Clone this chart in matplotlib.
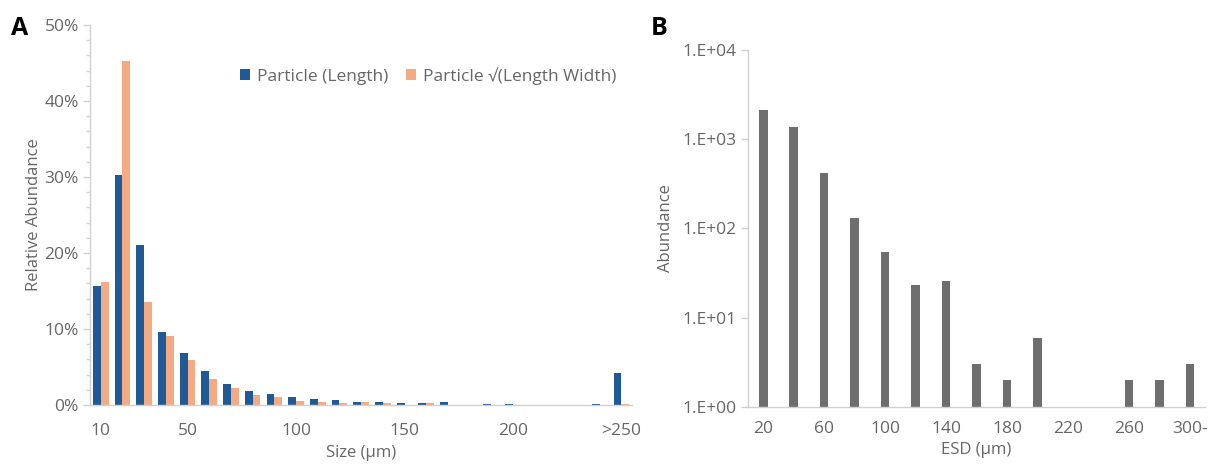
import numpy as np
import matplotlib.pyplot as plt
from matplotlib.ticker import FixedLocator, MultipleLocator, PercentFormatter

plt.rcParams['font.family'] = ['Open Sans', 'DejaVu Sans']

TEXT = '#666666'
AXIS = '#d0d0d0'
COLOR_LEN = '#1f5a96'
COLOR_SQRT = '#f4ab84'
COLOR_ESD = '#6e6e6e'

# Panel A: relative abundance (%) per 10 µm size bin, 10..240 and >250
size_bins = [str(v) for v in range(10, 250, 10)] + ['>250']
length_pct = [15.6, 30.3, 21.0, 9.6, 6.8, 4.5, 2.7, 1.9, 1.5, 1.1, 0.75, 0.6,
              0.35, 0.45, 0.2, 0.2, 0.35, 0.0, 0.15, 0.15, 0.0, 0.0, 0.0, 0.15, 4.2]
sqrt_pct = [16.2, 45.2, 13.5, 9.1, 5.9, 3.4, 2.2, 1.3, 1.0, 0.5, 0.35, 0.2,
            0.35, 0.2, 0.05, 0.2, 0.0, 0.0, 0.0, 0.0, 0.0, 0.0, 0.0, 0.0, 0.15]
size_labels = {0: '10', 4: '50', 9: '100', 14: '150', 19: '200', 24: '>250'}

# Panel B: abundance per ESD bin
esd_bins = [str(v) for v in range(20, 300, 20)] + ['300-']
esd_counts = [2100, 1360, 420, 130, 54, 23.5, 25.5, 3, 2, 6, 0, 0, 2, 2, 3]


def style_axes(ax):
    for s in ['top', 'right']:
        ax.spines[s].set_visible(False)
    for s in ['left', 'bottom']:
        ax.spines[s].set_color(AXIS)
        ax.spines[s].set_linewidth(1.0)
    ax.tick_params(colors=TEXT, labelcolor=TEXT)


fig = plt.figure(figsize=(12.09, 4.67), dpi=100)

# ---- Panel A
axA = fig.add_axes([0.0744, 0.1328, 0.4486, 0.8137])
x = np.arange(len(size_bins))
w = 0.36
axA.bar(x - w / 2, length_pct, width=w, color=COLOR_LEN, label='Particle (Length)')
axA.bar(x + w / 2, sqrt_pct, width=w, color=COLOR_SQRT, label='Particle \u221a(Length Width)')
axA.set_xlim(-0.5, len(size_bins) - 0.5)
axA.set_ylim(0, 50)
axA.yaxis.set_major_locator(MultipleLocator(10))
axA.yaxis.set_minor_locator(MultipleLocator(2))
axA.yaxis.set_major_formatter(PercentFormatter(decimals=0))
axA.set_xticks(list(size_labels.keys()))
axA.set_xticklabels(list(size_labels.values()))
style_axes(axA)
axA.tick_params(axis='x', length=0, pad=13, labelsize=12.5)
axA.tick_params(axis='y', which='major', length=5, width=1, color=AXIS, labelsize=12.5, pad=3)
axA.tick_params(axis='y', which='minor', length=3, width=1, color=AXIS)
axA.set_xlabel('Size (\u00b5m)', color=TEXT, fontsize=12, labelpad=4)
axA.set_ylabel('Relative Abundance', color=TEXT, fontsize=12, labelpad=2)
leg = axA.legend(loc='upper left', bbox_to_anchor=(0.248, 0.93), ncol=2, frameon=False,
                 fontsize=12.5, handlelength=0.6, handleheight=0.6, handletextpad=0.4,
                 columnspacing=1.0)
for t in leg.get_texts():
    t.set_color(TEXT)
fig.text(0.009, 0.925, 'A', fontsize=18, fontweight='bold', color='black')

# ---- Panel B
axB = fig.add_axes([0.6187, 0.1285, 0.3780, 0.7645])
xb = np.arange(len(esd_bins))
counts = np.array(esd_counts, dtype=float)
axB.bar(xb[counts > 0], counts[counts > 0], width=0.28, color=COLOR_ESD)
axB.set_yscale('log')
axB.set_ylim(1, 1e4)
axB.set_xlim(-0.5, len(esd_bins) - 0.5)
axB.yaxis.set_major_locator(FixedLocator([1, 10, 100, 1000, 10000]))
axB.yaxis.set_minor_locator(FixedLocator([]))
axB.set_yticklabels(['1.E+00', '1.E+01', '1.E+02', '1.E+03', '1.E+04'])
axB.set_xticks(xb[::2])
axB.set_xticklabels(esd_bins[::2])
style_axes(axB)
axB.tick_params(axis='x', length=0, pad=10, labelsize=12.5)
axB.tick_params(axis='y', length=5, width=1, color=AXIS, labelsize=12.5, pad=3)
axB.set_xlabel('ESD (\u00b5m)', color=TEXT, fontsize=12, labelpad=4)
axB.set_ylabel('Abundance', color=TEXT, fontsize=12, labelpad=6)
fig.text(0.538, 0.925, 'B', fontsize=18, fontweight='bold', color='black')

fig.savefig('out.png', dpi=100)
